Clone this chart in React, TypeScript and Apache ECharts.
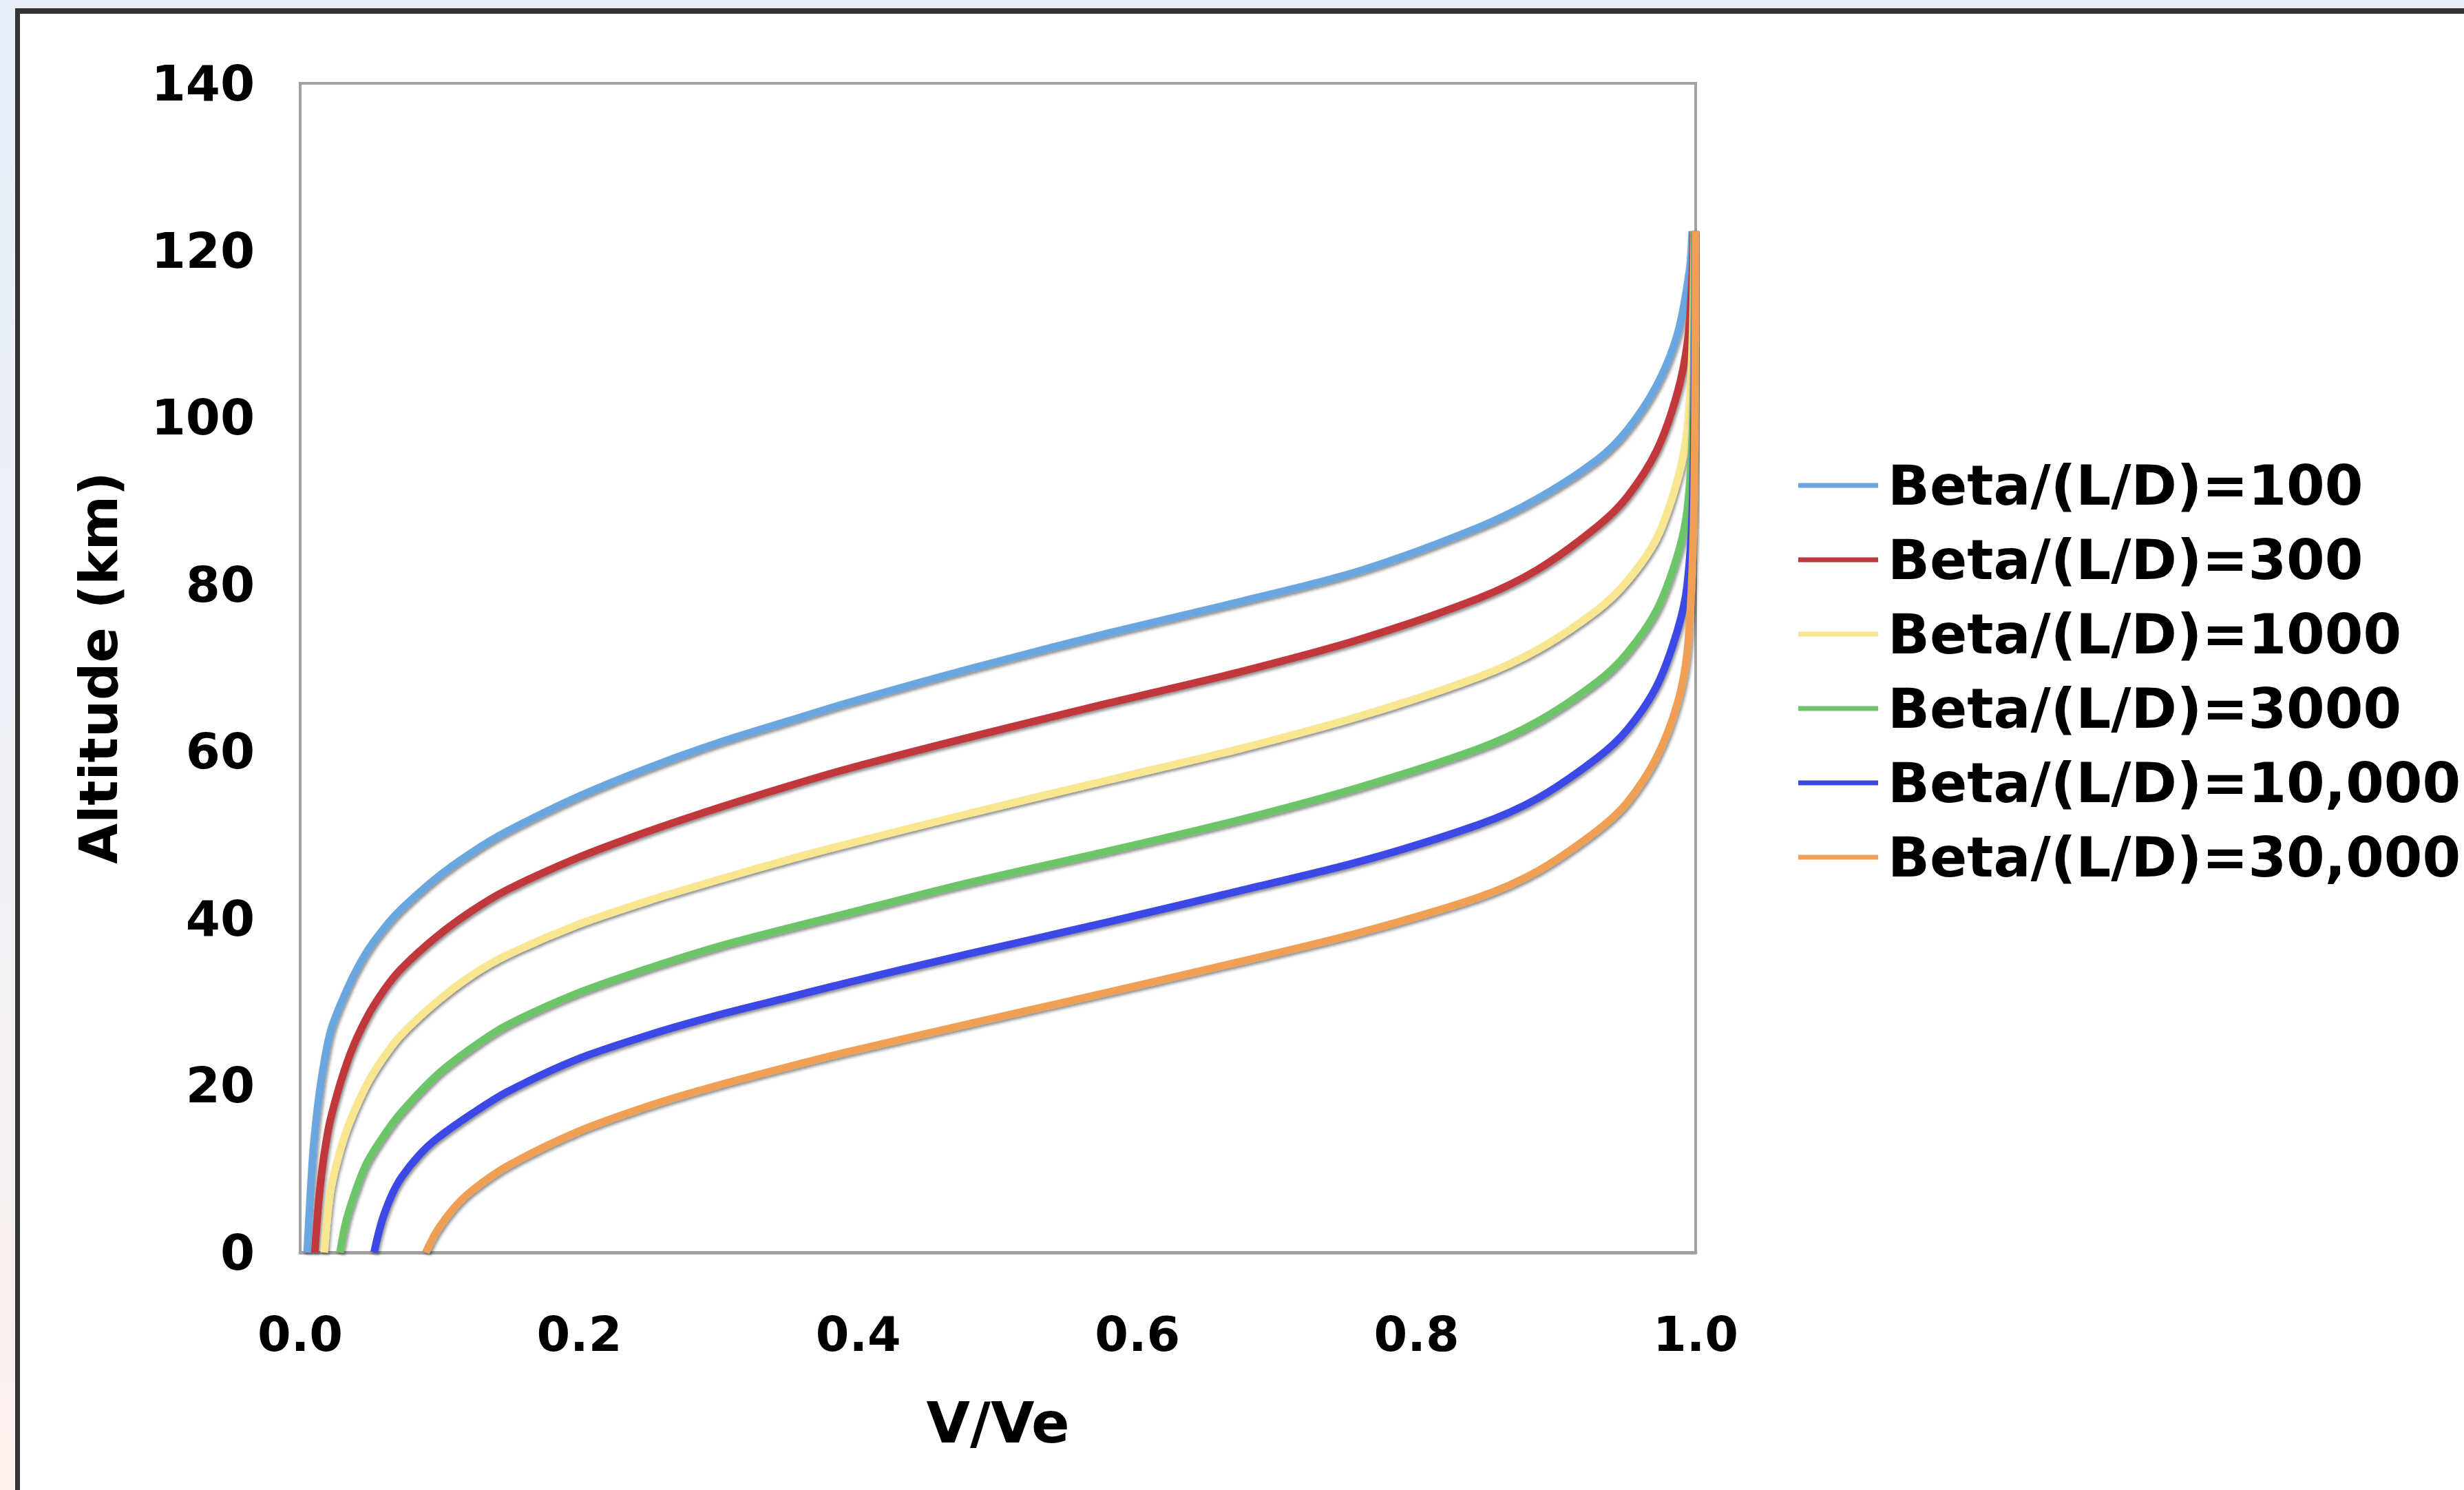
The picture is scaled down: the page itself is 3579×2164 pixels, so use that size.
import React, { useEffect, useRef } from "react";
import * as echarts from "echarts";

// Series names and colours
const seriesNames = [
  "Beta/(L/D)=100",
  "Beta/(L/D)=300",
  "Beta/(L/D)=1000",
  "Beta/(L/D)=3000",
  "Beta/(L/D)=10,000",
  "Beta/(L/D)=30,000",
];
const seriesColors = ["#6aa6e0", "#c0393a", "#f8e690", "#6cc567", "#3c48e6", "#f0a055"];

// V/Ve values and altitude (km) for each curve
const v100 = [0.005, 0.0075, 0.010, 0.015, 0.022, 0.035, 0.047, 0.060, 0.073, 0.098, 0.123, 0.148, 0.198, 0.249, 0.299, 0.349, 0.392, 0.480, 0.580, 0.673, 0.759, 0.844, 0.887, 0.930, 0.951, 0.972, 0.987, 0.9955, 0.9975];
const h100 = [0, 7.5, 13.5, 20.5, 26.6, 32.0, 35.8, 38.8, 41.2, 44.9, 47.9, 50.4, 54.5, 58.0, 61.0, 63.6, 65.8, 69.9, 74.2, 77.9, 81.6, 86.8, 90.3, 95.0, 98.5, 103.8, 110.0, 117.5, 122.3];

const v300 = [0.0105, 0.0135, 0.017, 0.0222, 0.0348, 0.0474, 0.060, 0.0726, 0.0977, 0.123, 0.148, 0.198, 0.249, 0.299, 0.349, 0.392, 0.480, 0.580, 0.673, 0.759, 0.844, 0.887, 0.930, 0.951, 0.972, 0.987, 0.9945, 0.998, 0.9985];
const h300 = [0, 6.5, 11.5, 16.3, 23.3, 28.0, 31.4, 34.0, 37.8, 40.9, 43.4, 47.2, 50.4, 53.2, 55.8, 57.9, 61.7, 65.8, 69.5, 73.4, 78.3, 81.8, 87.0, 90.5, 96.0, 103.0, 109.5, 118.5, 122.3];

const v1000 = [0.0172, 0.0195, 0.0222, 0.028, 0.0348, 0.0474, 0.060, 0.0726, 0.0977, 0.123, 0.148, 0.198, 0.249, 0.299, 0.349, 0.392, 0.480, 0.580, 0.673, 0.759, 0.844, 0.887, 0.930, 0.951, 0.972, 0.987, 0.994, 0.9975, 0.999];
const h1000 = [0, 4.2, 7.8, 11.8, 15.3, 20.0, 23.4, 26.1, 30.0, 33.2, 35.6, 39.2, 42.1, 44.6, 47.0, 48.9, 52.6, 56.6, 60.3, 64.2, 68.9, 72.2, 77.0, 80.4, 85.5, 92.5, 98.5, 108.5, 122.3];

const v3000 = [0.0285, 0.033, 0.040, 0.0474, 0.060, 0.0726, 0.0977, 0.123, 0.148, 0.198, 0.249, 0.299, 0.349, 0.392, 0.480, 0.580, 0.673, 0.759, 0.844, 0.887, 0.930, 0.951, 0.972, 0.987, 0.994, 0.998, 0.9993];
const h3000 = [0, 3.8, 7.5, 10.6, 14.0, 16.8, 21.2, 24.5, 27.2, 31.0, 34.0, 36.6, 38.8, 40.6, 44.3, 48.1, 51.8, 55.7, 60.3, 63.6, 68.4, 71.8, 76.9, 83.5, 89.0, 100.0, 122.3];

const v10000 = [0.053, 0.056, 0.060, 0.066, 0.0726, 0.085, 0.0977, 0.123, 0.148, 0.198, 0.249, 0.299, 0.349, 0.392, 0.480, 0.580, 0.673, 0.759, 0.844, 0.887, 0.930, 0.951, 0.972, 0.987, 0.994, 0.998, 1.0];
const h10000 = [0, 2.2, 4.5, 7.0, 9.0, 11.6, 13.6, 16.6, 19.2, 23.1, 26.0, 28.4, 30.5, 32.3, 35.8, 39.6, 43.3, 46.8, 51.2, 54.4, 59.3, 62.6, 67.8, 74.5, 80.0, 91.0, 122.3];

const v30000 = [0.090, 0.0977, 0.110, 0.123, 0.148, 0.198, 0.249, 0.299, 0.349, 0.392, 0.480, 0.580, 0.673, 0.759, 0.844, 0.887, 0.930, 0.951, 0.972, 0.987, 0.994, 0.998, 0.9995, 1.0];
const h30000 = [0, 2.5, 5.3, 7.4, 10.3, 14.4, 17.5, 20.0, 22.2, 24.0, 27.4, 31.2, 34.8, 38.3, 42.5, 45.7, 50.6, 53.9, 59.3, 65.8, 72.0, 84.0, 100.0, 122.3];

const allV = [v100, v300, v1000, v3000, v10000, v30000];
const allH = [h100, h300, h1000, h3000, h10000, h30000];

// Axes
const xMin = 0;
const xMax = 1;
const xStep = 0.2;
const yMin = 0;
const yMax = 140;
const yStep = 20;
const xTitle = "V/Ve";
const yTitle = "Altitude (km)";

const FONT = "'DejaVu Sans', Verdana, sans-serif";

export default function App() {
  const ref = useRef<HTMLDivElement>(null);

  useEffect(() => {
    if (!ref.current) return;
    const chart = echarts.init(ref.current, null, { renderer: "svg" });

    const series = seriesNames.map((name, i) => ({
      name,
      type: "line",
      data: allV[i].map((v, j) => [v, allH[i][j]]),
      showSymbol: false,
      symbol: "none",
      smooth: 0.3,
      clip: true,
      lineStyle: {
        width: 11,
        color: seriesColors[i],
        shadowColor: "rgba(0,0,0,0.45)",
        shadowBlur: 4,
        shadowOffsetX: 2,
        shadowOffsetY: 3,
      },
      itemStyle: { color: seriesColors[i] },
      z: 2 + i,
    }));

    chart.setOption({
      animation: false,
      backgroundColor: "transparent",
      textStyle: { fontFamily: FONT },
      grid: {
        left: 436,
        top: 121,
        width: 2027,
        height: 1698,
        show: true,
        backgroundColor: "#ffffff",
        borderColor: "#a0a0a0",
        borderWidth: 4,
      },
      legend: {
        orient: "vertical",
        left: 2607,
        top: 660,
        icon: "rect",
        itemWidth: 116,
        itemHeight: 7,
        itemGap: 28,
        data: seriesNames,
        textStyle: {
          fontFamily: FONT,
          fontSize: 80,
          fontWeight: "bold",
          color: "#000000",
          lineHeight: 80,
          padding: [0, 0, 0, 9],
        },
      },
      xAxis: {
        type: "value",
        min: xMin,
        max: xMax,
        interval: xStep,
        name: xTitle,
        nameLocation: "middle",
        nameGap: 206,
        nameTextStyle: {
          fontFamily: FONT,
          fontSize: 82,
          fontWeight: "bold",
          color: "#000000",
        },
        axisLine: { show: true, lineStyle: { color: "#a0a0a0", width: 5 } },
        axisTick: { show: false },
        splitLine: { show: false },
        axisLabel: {
          margin: 84,
          fontFamily: FONT,
          fontSize: 70,
          fontWeight: "bold",
          color: "#000000",
          formatter: (v: number) => v.toFixed(1),
        },
      },
      yAxis: {
        type: "value",
        min: yMin,
        max: yMax,
        interval: yStep,
        name: yTitle,
        nameLocation: "middle",
        nameGap: 255,
        nameRotate: 90,
        nameTextStyle: {
          fontFamily: FONT,
          fontSize: 76,
          fontWeight: "bold",
          color: "#000000",
        },
        axisLine: { show: true, lineStyle: { color: "#a0a0a0", width: 4 } },
        axisTick: { show: false },
        splitLine: { show: false },
        axisLabel: {
          margin: 66,
          fontFamily: FONT,
          fontSize: 72,
          fontWeight: "bold",
          color: "#000000",
          formatter: (v: number) => String(v),
        },
      },
      series,
    });

    return () => {
      chart.dispose();
    };
  }, []);

  return (
    <div
      style={{
        position: "fixed",
        left: 0,
        top: 0,
        width: 3579,
        height: 2164,
        overflow: "hidden",
        background: "linear-gradient(180deg, #e6eef7 0%, #eef0f6 50%, #fcf0ec 100%)",
      }}
    >
      <div
        style={{
          position: "absolute",
          left: 22,
          top: 12,
          width: 3700,
          height: 2300,
          background: "#ffffff",
          borderTop: "8px solid #333333",
          borderLeft: "7px solid #333333",
          boxSizing: "border-box",
        }}
      />
      <div
        ref={ref}
        style={{ position: "absolute", left: 0, top: 0, width: 3579, height: 2164 }}
      />
    </div>
  );
}
